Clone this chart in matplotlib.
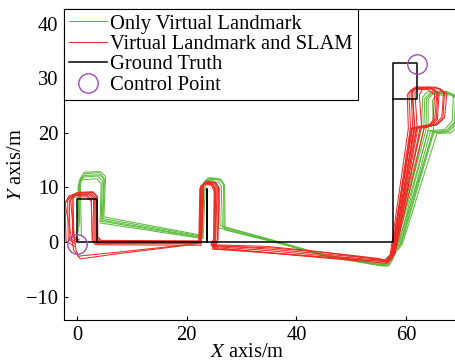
import numpy as np
import matplotlib
matplotlib.use("Agg")
import matplotlib.pyplot as plt

plt.rcParams['font.family'] = ['Liberation Serif', 'DejaVu Serif']
plt.rcParams['mathtext.fontset'] = 'stix'
plt.rcParams['font.size'] = 14.8

# ground truth route
gt_x = [3.6, 0.0, 0.0, 3.6, 3.6, 23.7, 23.7, 23.7, 57.6, 57.6, 61.9, 61.9, 57.6]
gt_y = [0.0, 0.0, 7.9, 7.9, 0.0, 0.0, 9.8, 0.0, 0.0, 32.8, 32.8, 26.2, 26.2]

# control points
cp_x = [0.0, 62.0]
cp_y = [-0.3, 32.6]

# only virtual landmark, one list per lap
green_x = [
    [0.2, 0.4, 1.2, 4.0, 4.9, 4.6, 22.6, 23.0, 23.8, 25.6, 26.3, 26.5, 36.0, 45.0, 55.2, 56.4, 57.3, 63.2, 63.4, 64.4, 67.8, 69.0, 68.8, 67.3, 64.4, 58.6],
    [0.5, 0.3, 1.0, 3.8, 4.6, 4.4, 22.8, 23.2, 24.0, 25.9, 26.7, 26.8, 36.5, 45.5, 55.4, 56.6, 57.5, 64.0, 64.0, 64.9, 68.3, 69.4, 69.2, 67.8, 65.0, 59.0],
    [0.1, 0.6, 1.4, 4.3, 5.2, 4.9, 22.4, 22.9, 23.6, 25.2, 25.9, 26.1, 35.5, 44.5, 55.0, 56.2, 57.1, 62.8, 63.0, 63.9, 67.4, 68.6, 68.4, 67.0, 64.0, 58.3],
    [0.4, 0.2, 0.9, 3.6, 4.4, 4.2, 23.0, 23.4, 24.3, 26.2, 26.9, 27.0, 37.0, 46.0, 55.6, 56.8, 57.6, 65.0, 64.8, 65.6, 68.8, 69.8, 69.6, 68.2, 65.6, 59.3],
    [0.8, 0.6, 1.3, 4.1, 5.0, 4.7, 22.5, 22.8, 23.5, 25.0, 25.6, 25.8, 35.8, 45.2, 55.3, 56.5, 57.4, 63.6, 63.7, 64.6, 68.0, 69.2, 69.0, 67.5, 64.8, 58.8],
]
green_y = [
    [1.8, 11.2, 12.5, 12.7, 11.8, 4.3, 1.1, 10.6, 11.5, 11.4, 10.2, 2.8, 0.2, -2.4, -4.1, -4.2, -2.9, 20.6, 26.4, 27.3, 27.4, 26.4, 22.0, 20.4, 20.2, -1.4],
    [3.5, 10.6, 11.9, 12.1, 11.2, 3.8, 0.8, 11.0, 11.8, 11.6, 10.5, 2.5, -0.1, -2.6, -4.3, -4.3, -3.0, 20.3, 26.2, 27.1, 27.2, 26.2, 21.8, 20.2, 20.0, -0.8],
    [4.5, 11.6, 12.8, 12.9, 12.0, 4.6, 1.3, 10.2, 11.1, 11.0, 9.8, 3.0, 0.4, -2.2, -3.9, -4.0, -2.7, 20.8, 26.6, 27.5, 27.6, 26.6, 22.2, 20.6, 20.4, -1.8],
    [2.8, 10.2, 11.4, 11.6, 10.7, 3.5, 0.6, 10.8, 11.7, 11.5, 10.4, 2.2, -0.3, -2.8, -4.4, -4.4, -3.1, 20.2, 26.0, 26.9, 27.0, 26.0, 21.6, 20.0, 19.9, -0.4],
    [1.2, 10.9, 12.2, 12.3, 11.4, 4.0, 0.9, 10.4, 11.3, 11.2, 10.0, 2.6, 0.1, -2.5, -4.2, -4.1, -2.8, 20.5, 26.3, 27.2, 27.3, 26.3, 21.9, 20.3, 20.1, -1.1],
]

# virtual landmark and SLAM, one list per lap
red_x = [
    [-0.3, -1.6, -1.7, -0.9, 2.4, 3.2, 3.3, 4.0, 22.3, 22.6, 23.2, 24.8, 25.3, 25.1, 24.6, 35.0, 45.0, 55.0, 56.3, 57.3, 60.8, 60.5, 61.2, 64.6, 66.0, 65.7, 64.6, 61.5, 57.6],
    [20.0, 7.0, 0.6, -0.6, -2.2, -1.4, 1.8, 2.6, 2.8, 3.6, 22.5, 22.8, 23.4, 25.0, 25.5, 25.3, 24.8, 35.5, 45.5, 55.2, 56.5, 57.5, 61.5, 61.2, 61.8, 65.4, 67.0, 66.7, 65.5, 62.2, 57.8],
    [0.2, -0.8, -0.9, -0.1, 2.9, 3.6, 3.7, 4.3, 22.2, 22.4, 23.0, 24.5, 25.0, 24.9, 24.4, 34.5, 44.5, 54.8, 56.1, 57.1, 60.4, 60.2, 60.9, 63.8, 65.2, 64.9, 63.8, 60.8, 57.4],
    [-0.5, -2.0, -2.2, -1.4, 1.8, 2.6, 2.8, 3.4, 22.6, 23.0, 23.7, 25.3, 25.8, 25.6, 25.0, 36.0, 46.0, 55.4, 56.6, 57.6, 62.8, 62.4, 63.0, 66.2, 67.4, 67.0, 65.8, 63.4, 58.0],
    [22.0, 8.0, 0.2, -0.3, -1.2, -0.4, 2.6, 3.4, 3.5, 4.1, 22.4, 22.7, 23.3, 24.6, 25.1, 25.0, 24.5, 35.0, 45.0, 55.0, 56.2, 57.2, 61.2, 60.9, 61.6, 64.2, 65.6, 65.2, 64.0, 61.0, 57.5],
    [0.0, -1.3, -1.4, -0.6, 2.2, 3.0, 3.1, 3.8, 22.3, 22.5, 23.1, 24.7, 25.2, 25.2, 24.7, 35.2, 45.2, 55.1, 56.4, 57.4, 62.0, 61.6, 62.3, 65.6, 66.8, 66.5, 65.3, 62.6, 57.9],
    [0.4, -0.6, -0.7, 0.1, 2.9, 3.7, 3.8, 4.4, 22.7, 23.1, 23.8, 25.4, 25.9, 25.7, 25.1, 35.8, 45.8, 55.3, 56.5, 57.5, 61.6, 61.0, 61.6, 64.4, 65.8, 65.5, 64.3, 61.9, 57.7],
]
red_y = [
    [-0.3, 0.5, 7.6, 8.7, 8.8, 8.0, 0.6, 0.0, -0.1, 10.0, 10.8, 10.6, 9.6, 0.4, -0.8, -1.6, -2.5, -3.3, -3.5, -2.5, 21.0, 27.2, 28.1, 28.2, 27.3, 22.5, 21.2, 21.0, -2.2],
    [-0.6, -2.2, -3.1, -1.5, 7.2, 8.5, 8.6, 7.8, 0.3, -0.3, -0.3, 10.3, 11.0, 10.8, 9.8, 0.2, -1.0, -2.0, -2.8, -3.5, -3.7, -2.6, 21.2, 27.4, 28.3, 28.4, 27.5, 22.7, 21.4, 21.2, -2.4],
    [0.2, 0.8, 8.0, 9.0, 9.1, 8.3, 0.8, 0.2, 0.1, 9.8, 10.6, 10.4, 9.3, 0.6, -0.5, -0.8, -1.8, -3.0, -3.3, -2.3, 20.8, 27.0, 27.9, 28.0, 27.1, 22.3, 21.0, 20.8, -2.6],
    [-0.8, 0.2, 7.0, 8.2, 8.3, 7.5, 0.1, -0.5, -0.6, 10.5, 11.1, 10.9, 9.9, 0.0, -1.2, -2.1, -3.0, -3.8, -3.9, -2.8, 21.4, 27.0, 28.0, 28.1, 27.1, 22.8, 21.6, 21.4, -2.0],
    [-0.3, -1.8, -2.6, -1.0, 7.8, 8.9, 9.0, 8.1, 0.5, 0.1, 0.0, 10.1, 10.9, 10.7, 9.6, 0.4, -0.6, -1.3, -2.2, -3.1, -3.4, -2.4, 20.9, 27.3, 28.2, 28.3, 27.2, 22.4, 21.1, 20.9, -2.1],
    [0.0, 0.6, 7.4, 8.6, 8.7, 7.9, 0.4, -0.2, -0.2, 10.2, 10.7, 10.5, 9.5, 0.3, -1.3, -2.0, -2.8, -3.5, -3.7, -2.6, 21.1, 27.4, 28.2, 28.3, 27.3, 22.9, 21.5, 21.2, -2.3],
    [0.4, 1.0, 8.2, 9.1, 9.2, 8.4, 0.9, 0.3, 0.2, 10.6, 11.0, 10.8, 9.9, 0.5, -0.7, -1.1, -2.0, -3.2, -3.4, -2.4, 20.9, 27.6, 28.4, 28.4, 27.4, 22.6, 21.3, 21.1, -2.5],
]

green = '#5cbc3c'
red = '#ee2a24'
purple = '#a04cb4'

fig = plt.figure(figsize=(4.56, 3.62), dpi=100)
ax = fig.add_axes([0.140, 0.116, 1.011 - 0.140, 0.975 - 0.116])

for i in range(len(green_x)):
    ax.plot(green_x[i], green_y[i], color=green, lw=0.75,
            label='Only Virtual Landmark' if i == 0 else None)
for i in range(len(red_x)):
    ax.plot(red_x[i], red_y[i], color=red, lw=0.75,
            label='Virtual Landmark and SLAM' if i == 0 else None)
ax.plot(gt_x, gt_y, color='black', lw=1.1, label='Ground Truth')
ax.plot(cp_x, cp_y, 'o', mfc='none', mec=purple, mew=1.0, ms=14,
        label='Control Point')

ax.set_xlim(-2.4, 70)
ax.set_ylim(-14.3, 42.7)
ax.set_xticks([0, 20, 40, 60])
ax.set_yticks([-10, 0, 10, 20, 30, 40])
ax.tick_params(direction='in', length=3, width=0.8, pad=4)
for s in ax.spines.values():
    s.set_linewidth(0.8)

ax.set_xlabel(r'$X$ axis/m')
ax.set_ylabel(r'$Y$ axis/m')
ax.xaxis.set_label_coords(0.461, -0.075)
ax.yaxis.set_label_coords(-0.095, 0.5)

leg = ax.legend(loc='upper left', bbox_to_anchor=(0, 1), borderaxespad=0,
                fancybox=False, edgecolor='black', framealpha=1,
                handlelength=1.85, handletextpad=0.15, labelspacing=0.05,
                borderpad=0.25, fontsize=14.8)
leg.get_frame().set_linewidth(0.8)

fig.savefig('out.png', dpi=100)
